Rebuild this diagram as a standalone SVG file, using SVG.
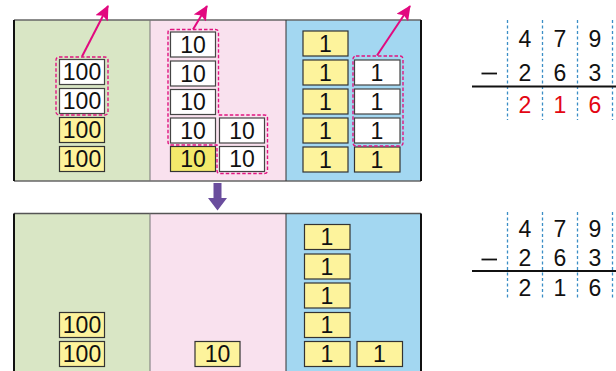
<svg xmlns="http://www.w3.org/2000/svg" width="616" height="371" viewBox="0 0 616 371">
<defs>
<style>
.t{font-family:"Liberation Sans",Arial,sans-serif;font-size:23px;fill:#111;text-anchor:middle}
.d{font-family:"Liberation Sans",Arial,sans-serif;font-size:23px;fill:#111;text-anchor:middle}
.r{fill:#e30613}
.y{fill:#fdf39c;stroke:#333;stroke-width:1.2}
.yb{fill:#f3e96b;stroke:#333;stroke-width:1.2}
.w{fill:#fff;stroke:#444;stroke-width:1.2}
.dash{fill:none;stroke:#e0147f;stroke-width:1.4;stroke-dasharray:3.5 2}
.arr{stroke:#e2097f;stroke-width:2;fill:none;marker-end:url(#ah)}
.col{stroke:#3b8ec6;stroke-width:1.3;stroke-dasharray:3 2.5}
</style>
<marker id="ah" markerUnits="userSpaceOnUse" markerWidth="16" markerHeight="14" refX="14" refY="7" orient="auto">
<path d="M0,0 L15,7 L0,14 L3,7 Z" fill="#e2097f"/>
</marker>
</defs>

<g id="top-panel">
<rect x="14" y="20" width="136" height="161" fill="#d9e6c5"/>
<rect x="150" y="20" width="136" height="161" fill="#f9e1ee"/>
<rect x="286" y="20" width="135" height="161" fill="#a3d7f1"/>
<line x1="14" y1="20" x2="421" y2="20" stroke="#666" stroke-width="1.5"/>
<line x1="14" y1="181" x2="421" y2="181" stroke="#666" stroke-width="1.5"/>
<line x1="150" y1="20" x2="150" y2="181" stroke="#777" stroke-width="1"/>
<line x1="286" y1="20" x2="286" y2="181" stroke="#333" stroke-width="1"/>
<line x1="14" y1="20" x2="14" y2="181" stroke="#111" stroke-width="2"/>
<line x1="421" y1="20" x2="421" y2="181" stroke="#111" stroke-width="2"/>
</g>

<g id="top-hundreds">
<rect class="w" x="59.5" y="59.5" width="45" height="25"/><text class="t" x="82" y="80">100</text>
<rect class="w" x="59.5" y="88.5" width="45" height="25"/><text class="t" x="82" y="109">100</text>
<rect class="y" x="59.5" y="117.5" width="45" height="25"/><text class="t" x="82" y="138">100</text>
<rect class="y" x="59.5" y="146.5" width="45" height="25"/><text class="t" x="82" y="167">100</text>
<rect class="dash" x="56" y="57" width="52" height="58" rx="3"/>
</g>

<g id="top-tens">
<rect class="w" x="170.5" y="32" width="45" height="25"/><text class="t" x="193" y="52.5">10</text>
<rect class="w" x="170.5" y="61" width="45" height="25"/><text class="t" x="193" y="81.5">10</text>
<rect class="w" x="170.5" y="89.5" width="45" height="25"/><text class="t" x="193" y="110">10</text>
<rect class="w" x="170.5" y="118" width="45" height="25"/><text class="t" x="193" y="138.5">10</text>
<rect class="yb" x="170.5" y="146.5" width="45" height="25"/><text class="t" x="193" y="167">10</text>
<rect class="w" x="219.5" y="118" width="45" height="25"/><text class="t" x="242" y="138.5">10</text>
<rect class="w" x="219.5" y="146.5" width="45" height="25"/><text class="t" x="242" y="167">10</text>
<path class="dash" d="M171,29.5 H215.5 Q218.5,29.5 218.5,32.5 V115 H264.5 Q267.5,115 267.5,118 V170.5 Q267.5,173.5 264.5,173.5 H220 Q217,173.5 217,170.5 V145 H171 Q168,145 168,142 V32.5 Q168,29.5 171,29.5 Z"/>
</g>

<g id="top-ones">
<rect class="y" x="303" y="31" width="45" height="25"/><text class="t" x="325.5" y="51.5">1</text>
<rect class="y" x="303" y="60" width="45" height="25"/><text class="t" x="325.5" y="80.5">1</text>
<rect class="y" x="303" y="89" width="45" height="25"/><text class="t" x="325.5" y="109.5">1</text>
<rect class="y" x="303" y="118" width="45" height="25"/><text class="t" x="325.5" y="138.5">1</text>
<rect class="y" x="303" y="147" width="45" height="25"/><text class="t" x="325.5" y="167.5">1</text>
<rect class="w" x="354.5" y="60" width="45.5" height="25"/><text class="t" x="377" y="80.5">1</text>
<rect class="w" x="354.5" y="89" width="45.5" height="25"/><text class="t" x="377" y="109.5">1</text>
<rect class="w" x="354.5" y="118" width="45.5" height="25"/><text class="t" x="377" y="138.5">1</text>
<rect class="y" x="354.5" y="147" width="45.5" height="25"/><text class="t" x="377" y="167.5">1</text>
<rect class="dash" x="353" y="56" width="50" height="90" rx="3"/>
</g>

<g id="connectors">
<line class="arr" x1="82" y1="56.5" x2="108" y2="6"/>
<line class="arr" x1="193" y1="29.5" x2="207" y2="6"/>
<line class="arr" x1="377" y1="55.5" x2="410" y2="6"/>
<path d="M213.5,183 H221.5 V198 H227 L217.5,210.5 L208,198 H213.5 Z" fill="#6a4d9d"/>
</g>

<g id="bottom-panel">
<rect x="14" y="213.5" width="136" height="160" fill="#d9e6c5"/>
<rect x="150" y="213.5" width="136" height="160" fill="#f9e1ee"/>
<rect x="286" y="213.5" width="135" height="160" fill="#a3d7f1"/>
<line x1="14" y1="213.5" x2="421" y2="213.5" stroke="#555" stroke-width="1.5"/>
<line x1="150" y1="213.5" x2="150" y2="371" stroke="#777" stroke-width="1"/>
<line x1="286" y1="213.5" x2="286" y2="371" stroke="#333" stroke-width="1"/>
<line x1="14" y1="213.5" x2="14" y2="371" stroke="#111" stroke-width="2"/>
<line x1="421" y1="213.5" x2="421" y2="371" stroke="#111" stroke-width="2"/>
</g>

<g id="bottom-blocks">
<rect class="y" x="59.5" y="312.5" width="45" height="25"/><text class="t" x="82" y="333">100</text>
<rect class="y" x="59.5" y="341.5" width="45" height="25"/><text class="t" x="82" y="362">100</text>
<rect class="y" x="195" y="341.5" width="45" height="25"/><text class="t" x="217.5" y="362">10</text>
<rect class="y" x="304.5" y="224.5" width="45.5" height="25"/><text class="t" x="327" y="245">1</text>
<rect class="y" x="304.5" y="254" width="45.5" height="25"/><text class="t" x="327" y="274.5">1</text>
<rect class="y" x="304.5" y="283" width="45.5" height="25"/><text class="t" x="327" y="303.5">1</text>
<rect class="y" x="304.5" y="312.5" width="45.5" height="25"/><text class="t" x="327" y="333">1</text>
<rect class="y" x="304.5" y="341.5" width="45.5" height="25"/><text class="t" x="327" y="362">1</text>
<rect class="y" x="357" y="341.5" width="45.5" height="25"/><text class="t" x="379.5" y="362">1</text>
</g>

<g id="top-calc">
<line class="col" x1="507.5" y1="20" x2="507.5" y2="120"/>
<line class="col" x1="542.5" y1="20" x2="542.5" y2="120"/>
<line class="col" x1="577.5" y1="20" x2="577.5" y2="120"/>
<line class="col" x1="612.5" y1="20" x2="612.5" y2="120"/>
<text class="d" x="525" y="46.5">4</text><text class="d" x="560" y="46.5">7</text><text class="d" x="595" y="46.5">9</text>
<line x1="481.5" y1="73.5" x2="497" y2="73.5" stroke="#111" stroke-width="1.8"/>
<text class="d" x="525" y="80.5">2</text><text class="d" x="560" y="80.5">6</text><text class="d" x="595" y="80.5">3</text>
<line x1="472" y1="86.5" x2="616" y2="86.5" stroke="#111" stroke-width="2"/>
<text class="d r" x="525" y="112.5">2</text><text class="d r" x="560" y="112.5">1</text><text class="d r" x="595" y="112.5">6</text>
</g>

<g id="bottom-calc">
<line class="col" x1="507.5" y1="212" x2="507.5" y2="300"/>
<line class="col" x1="542.5" y1="212" x2="542.5" y2="300"/>
<line class="col" x1="577.5" y1="212" x2="577.5" y2="300"/>
<line class="col" x1="612.5" y1="212" x2="612.5" y2="300"/>
<text class="d" x="525" y="237">4</text><text class="d" x="560" y="237">7</text><text class="d" x="595" y="237">9</text>
<line x1="481.5" y1="259.5" x2="497" y2="259.5" stroke="#111" stroke-width="1.8"/>
<text class="d" x="525" y="266">2</text><text class="d" x="560" y="266">6</text><text class="d" x="595" y="266">3</text>
<line x1="472" y1="271" x2="616" y2="271" stroke="#111" stroke-width="2"/>
<text class="d" x="525" y="296">2</text><text class="d" x="560" y="296">1</text><text class="d" x="595" y="296">6</text>
</g>
</svg>
